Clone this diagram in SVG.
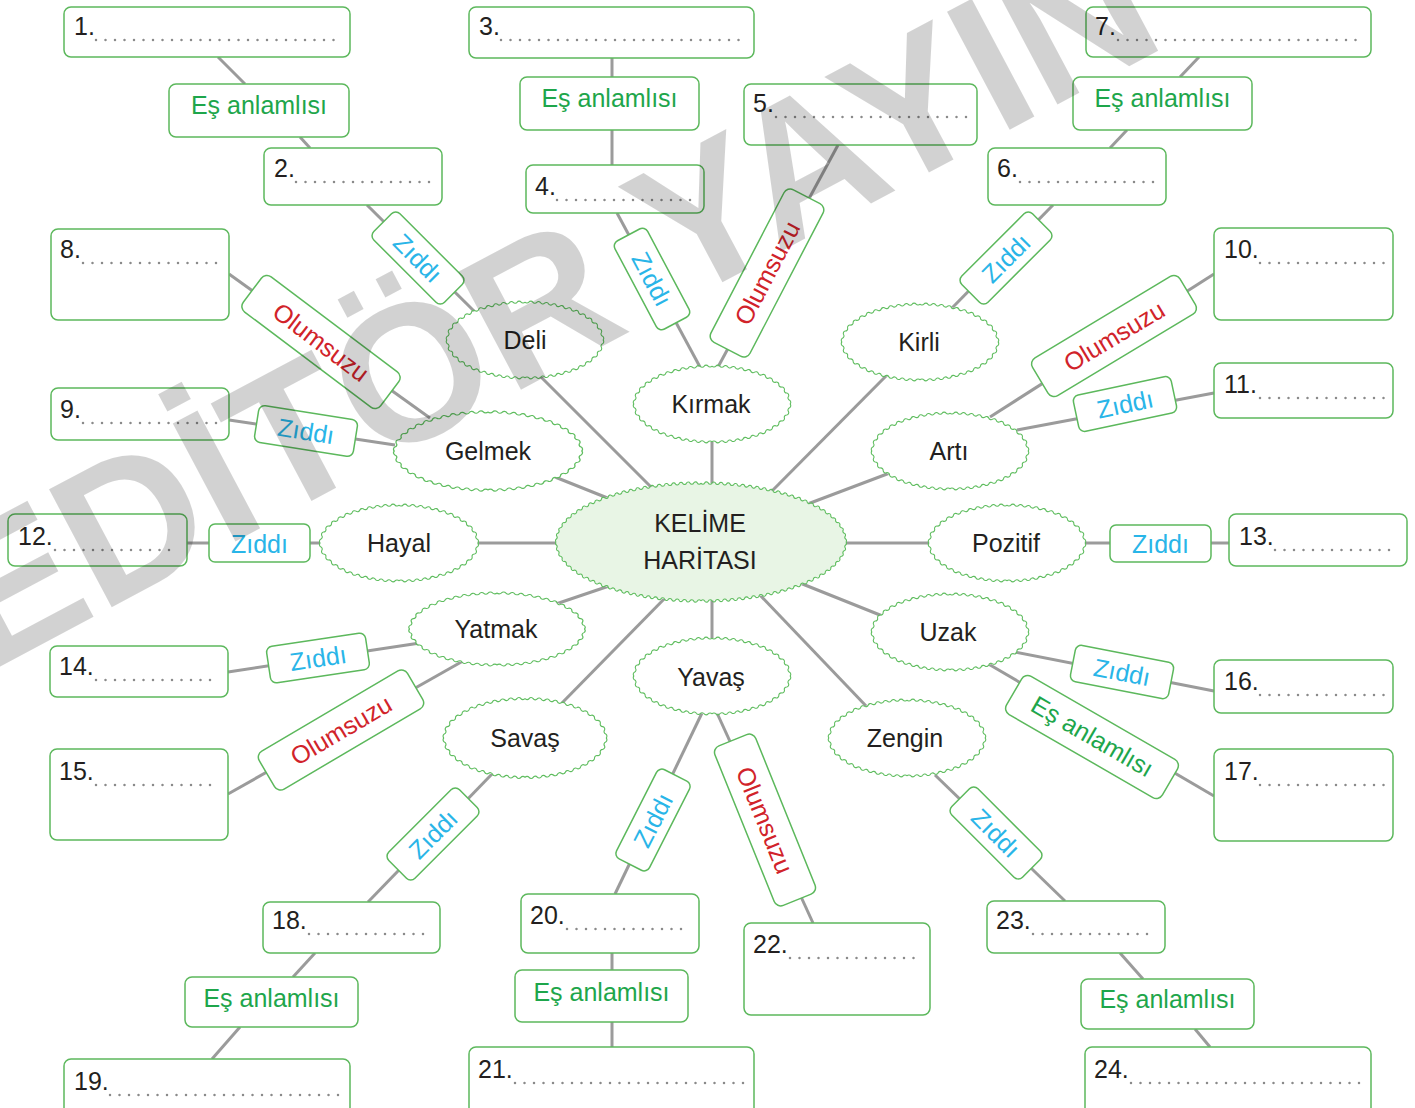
<svg xmlns="http://www.w3.org/2000/svg" xmlns:xlink="http://www.w3.org/1999/xlink" width="1415" height="1108" viewBox="0 0 1415 1108">
<style>
.ln line{stroke:#9b9b9b;stroke-width:3;fill:none}
.bx{fill:#fff;stroke:#5cb85c;stroke-width:1.5}
.wv{fill:none;stroke:#5fbd5f;stroke-width:1.1}
.dt{stroke:#8a8a8a;stroke-width:2.5;stroke-linecap:round;stroke-dasharray:0 9.5;fill:none}
text{font-family:"Liberation Sans",Arial,Helvetica,sans-serif;font-size:25px}
.num{fill:#231f20}
.wd{fill:#231f20;text-anchor:middle}
.zt{fill:#29b5e8;text-anchor:middle}
.ot{fill:#d1232a;text-anchor:middle}
.et{fill:#1ea64b;text-anchor:middle}
.wm{font-weight:bold;font-size:194px;fill:#000;fill-opacity:0.175}
</style>
<defs>
<path id="qs" class="wv" d="M78 0 A2.4 2.4 0 0 0 77.61 -3.81 A2.4 2.4 0 0 1 76.46 -7.51 A2.4 2.4 0 0 0 74.71 -10.93 A2.4 2.4 0 0 1 72.43 -14.11 A2.4 2.4 0 0 0 69.82 -16.94 A2.4 2.4 0 0 1 66.85 -19.58 A2.4 2.4 0 0 0 63.8 -21.86 A2.4 2.4 0 0 1 60.42 -24.03 A2.4 2.4 0 0 0 57.07 -25.9 A2.4 2.4 0 0 1 53.56 -27.62 A2.4 2.4 0 0 0 49.87 -29.22 A2.4 2.4 0 0 1 46.3 -30.58 A2.4 2.4 0 0 0 42.58 -31.84 A2.4 2.4 0 0 1 38.74 -32.98 A2.4 2.4 0 0 0 35.02 -33.95 A2.4 2.4 0 0 1 31.2 -34.83 A2.4 2.4 0 0 0 27.3 -35.6 A2.4 2.4 0 0 1 23.47 -36.24 A2.4 2.4 0 0 0 19.6 -36.78 A2.4 2.4 0 0 1 15.68 -37.22 A2.4 2.4 0 0 0 11.76 -37.57 A2.4 2.4 0 0 1 7.86 -37.81 A2.4 2.4 0 0 0 3.93 -37.95 A2.4 2.4 0 0 1 0 -38"/>
<g id="sw">
<ellipse rx="78" ry="38" fill="#fff"/>
<use href="#qs"/><use href="#qs" transform="scale(-1,1)"/><use href="#qs" transform="scale(1,-1)"/><use href="#qs" transform="scale(-1,-1)"/>
</g>
<path id="qc" class="wv" d="M145 0 A2 2 0 0 0 144.64 -2.96 A2 2 0 0 1 144.27 -5.92 A2 2 0 0 0 143.21 -8.79 A2 2 0 0 1 142.14 -11.66 A2 2 0 0 0 140.51 -14.31 A2 2 0 0 1 138.88 -16.96 A2 2 0 0 0 136.76 -19.43 A2 2 0 0 1 134.64 -21.9 A2 2 0 0 0 132.22 -24.1 A2 2 0 0 1 129.8 -26.3 A2 2 0 0 0 127.04 -28.35 A2 2 0 0 1 124.28 -30.4 A2 2 0 0 0 121.44 -32.17 A2 2 0 0 1 118.6 -33.94 A2 2 0 0 0 115.46 -35.63 A2 2 0 0 1 112.32 -37.31 A2 2 0 0 0 109.21 -38.77 A2 2 0 0 1 106.1 -40.22 A2 2 0 0 0 102.84 -41.56 A2 2 0 0 1 99.57 -42.89 A2 2 0 0 0 96.14 -44.13 A2 2 0 0 1 92.7 -45.37 A2 2 0 0 0 89.39 -46.43 A2 2 0 0 1 86.07 -47.48 A2 2 0 0 0 82.62 -48.46 A2 2 0 0 1 79.16 -49.43 A2 2 0 0 0 75.59 -50.32 A2 2 0 0 1 72.02 -51.21 A2 2 0 0 0 68.57 -51.97 A2 2 0 0 1 65.11 -52.72 A2 2 0 0 0 61.56 -53.4 A2 2 0 0 1 58.01 -54.08 A2 2 0 0 0 54.39 -54.68 A2 2 0 0 1 50.76 -55.27 A2 2 0 0 0 47.2 -55.77 A2 2 0 0 1 43.63 -56.27 A2 2 0 0 0 40.03 -56.69 A2 2 0 0 1 36.43 -57.11 A2 2 0 0 0 32.8 -57.46 A2 2 0 0 1 29.16 -57.8 A2 2 0 0 0 25.51 -58.07 A2 2 0 0 1 21.86 -58.33 A2 2 0 0 0 18.23 -58.52 A2 2 0 0 1 14.6 -58.7 A2 2 0 0 0 10.96 -58.82 A2 2 0 0 1 7.31 -58.93 A2 2 0 0 0 3.66 -58.97 A2 2 0 0 1 0 -59"/>
<rect id="zr" class="bx" x="-50" y="-18.5" width="100" height="37" rx="6"/>
<rect id="or" class="bx" x="-86" y="-22" width="172" height="44" rx="7"/>
</defs>
<rect width="1415" height="1108" fill="#fff"/>

<g id="connectors" class="ln">
<line x1="533" y1="369" x2="655" y2="491"/>
<line x1="712" y1="438" x2="712" y2="488"/>
<line x1="890" y1="372" x2="768" y2="495"/>
<line x1="545" y1="473" x2="615" y2="501"/>
<line x1="895" y1="471" x2="805" y2="505"/>
<line x1="475" y1="543" x2="560" y2="543"/>
<line x1="843" y1="543" x2="933" y2="543"/>
<line x1="550" y1="606" x2="612" y2="585"/>
<line x1="800" y1="583" x2="885" y2="617"/>
<line x1="712" y1="596" x2="712" y2="642"/>
<line x1="560" y1="705" x2="668" y2="595"/>
<line x1="758" y1="593" x2="868" y2="708"/>
<line x1="475" y1="312" x2="367" y2="205"/>
<line x1="310" y1="148" x2="300" y2="137"/>
<line x1="245" y1="84" x2="218" y2="57"/>
<line x1="700" y1="367" x2="617" y2="213"/>
<line x1="612" y1="165" x2="612" y2="130"/>
<line x1="612" y1="77" x2="612" y2="58"/>
<line x1="718" y1="367" x2="838" y2="145"/>
<line x1="952" y1="308" x2="1053" y2="205"/>
<line x1="1110" y1="148" x2="1127" y2="130"/>
<line x1="1180" y1="77" x2="1199" y2="57"/>
<line x1="430" y1="418" x2="229" y2="274"/>
<line x1="395" y1="445" x2="229" y2="420"/>
<line x1="990" y1="417" x2="1214" y2="274"/>
<line x1="1017" y1="430" x2="1214" y2="393"/>
<line x1="320" y1="543" x2="187" y2="543"/>
<line x1="1084" y1="543" x2="1229" y2="543"/>
<line x1="420" y1="643" x2="228" y2="672"/>
<line x1="463" y1="661" x2="228" y2="794"/>
<line x1="1015" y1="652" x2="1214" y2="691"/>
<line x1="985" y1="662" x2="1214" y2="796"/>
<line x1="492" y1="774" x2="368" y2="902"/>
<line x1="315" y1="953" x2="293" y2="977"/>
<line x1="240" y1="1027" x2="212" y2="1059"/>
<line x1="702" y1="713" x2="615" y2="894"/>
<line x1="612" y1="953" x2="612" y2="970"/>
<line x1="612" y1="1022" x2="612" y2="1047"/>
<line x1="717" y1="713" x2="813" y2="923"/>
<line x1="935" y1="775" x2="1065" y2="901"/>
<line x1="1120" y1="953" x2="1143" y2="979"/>
<line x1="1195" y1="1029" x2="1210" y2="1047"/>
</g>

<g id="center">
<ellipse cx="701" cy="542" rx="145" ry="59" fill="#e8f5e5"/>
<g transform="translate(701,542)"><use href="#qc"/><use href="#qc" transform="scale(-1,1)"/><use href="#qc" transform="scale(1,-1)"/><use href="#qc" transform="scale(-1,-1)"/></g>
<text class="wd" x="700" y="532" font-size="24">KELİME</text>
<text class="wd" x="700" y="569" font-size="24">HARİTASI</text>
</g>

<g id="n-deli"><use href="#sw" transform="translate(525,340)"/><text class="wd" x="525" y="349">Deli</text></g>
<g id="n-kirmak"><use href="#sw" transform="translate(712,404)"/><text class="wd" x="711" y="413">Kırmak</text></g>
<g id="n-kirli"><use href="#sw" transform="translate(920,342)"/><text class="wd" x="919" y="351">Kirli</text></g>
<g id="n-gelmek"><use href="#sw" transform="translate(488,451) scale(1.2,1.03)"/><text class="wd" x="488" y="460">Gelmek</text></g>
<g id="n-arti"><use href="#sw" transform="translate(950,451)"/><text class="wd" x="949" y="460">Artı</text></g>
<g id="n-hayal"><use href="#sw" transform="translate(399,543) scale(1.01,1)"/><text class="wd" x="399" y="552">Hayal</text></g>
<g id="n-pozitif"><use href="#sw" transform="translate(1007,543)"/><text class="wd" x="1006" y="552">Pozitif</text></g>
<g id="n-yatmak"><use href="#sw" transform="translate(497,629) scale(1.12,0.95)"/><text class="wd" x="496" y="638">Yatmak</text></g>
<g id="n-uzak"><use href="#sw" transform="translate(950,632)"/><text class="wd" x="948" y="641">Uzak</text></g>
<g id="n-yavas"><use href="#sw" transform="translate(712,676)"/><text class="wd" x="711" y="686">Yavaş</text></g>
<g id="n-savas"><use href="#sw" transform="translate(525,738) scale(1.04,1.04)"/><text class="wd" x="525" y="747">Savaş</text></g>
<g id="n-zengin"><use href="#sw" transform="translate(907,738)"/><text class="wd" x="905" y="747">Zengin</text></g>

<g id="l-deli-z" transform="translate(418,258) rotate(45)"><use href="#zr"/><text class="zt" y="9">Zıddı</text></g>
<g id="l-kirmak-z" transform="translate(652,279) rotate(62)"><use href="#zr"/><text class="zt" y="9">Zıddı</text></g>
<g id="l-kirli-z" transform="translate(1006,258) rotate(-45)"><use href="#zr"/><text class="zt" y="9">Zıddı</text></g>
<g id="l-gelmek-z" transform="translate(306,431) rotate(9)"><use href="#zr"/><text class="zt" y="9">Zıddı</text></g>
<g id="l-arti-z" transform="translate(1125,404) rotate(-12)"><use href="#zr"/><text class="zt" y="9">Zıddı</text></g>
<g id="l-hayal-z"><rect class="bx" x="209" y="524" width="101" height="38" rx="6"/><text class="zt" x="259.5" y="553">Zıddı</text></g>
<g id="l-pozitif-z"><rect class="bx" x="1110" y="525" width="101" height="37" rx="6"/><text class="zt" x="1160.5" y="553">Zıddı</text></g>
<g id="l-yatmak-z" transform="translate(318,658) rotate(-8.5)"><use href="#zr"/><text class="zt" y="9">Zıddı</text></g>
<g id="l-uzak-z" transform="translate(1122,672) rotate(11)"><use href="#zr"/><text class="zt" y="9">Zıddı</text></g>
<g id="l-savas-z" transform="translate(433,834) rotate(-45)"><use href="#zr"/><text class="zt" y="9">Zıddı</text></g>
<g id="l-yavas-z" transform="translate(653,820) rotate(-63)"><use href="#zr"/><text class="zt" y="9">Zıddı</text></g>
<g id="l-zengin-z" transform="translate(996,833) rotate(45)"><use href="#zr"/><text class="zt" y="9">Zıddı</text></g>

<g id="l-deli-o" transform="translate(321,342) rotate(37)"><use href="#or"/><text class="ot" y="9">Olumsuzu</text></g>
<g id="l-kirmak-o" transform="translate(767,273) rotate(-62.5)"><use href="#or"/><text class="ot" y="9">Olumsuzu</text></g>
<g id="l-arti-o" transform="translate(1114,336) rotate(-31)"><use href="#or"/><text class="ot" y="9">Olumsuzu</text></g>
<g id="l-yatmak-o" transform="translate(341,730) rotate(-30.5)"><use href="#or"/><text class="ot" y="9">Olumsuzu</text></g>
<g id="l-yavas-o" transform="translate(765,820) rotate(68)"><use href="#or"/><text class="ot" y="9">Olumsuzu</text></g>

<g id="l-e1"><rect class="bx" x="169" y="84" width="180" height="53" rx="7"/><text class="et" x="259" y="114">Eş anlamlısı</text></g>
<g id="l-e2"><rect class="bx" x="520" y="77" width="179" height="53" rx="7"/><text class="et" x="609.5" y="107">Eş anlamlısı</text></g>
<g id="l-e3"><rect class="bx" x="1073" y="77" width="179" height="53" rx="7"/><text class="et" x="1162.5" y="107">Eş anlamlısı</text></g>
<g id="l-e4"><rect class="bx" x="185" y="977" width="173" height="50" rx="7"/><text class="et" x="271.5" y="1007">Eş anlamlısı</text></g>
<g id="l-e5"><rect class="bx" x="515" y="970" width="173" height="52" rx="7"/><text class="et" x="601.5" y="1001">Eş anlamlısı</text></g>
<g id="l-e6"><rect class="bx" x="1081" y="979" width="173" height="50" rx="7"/><text class="et" x="1167.5" y="1008">Eş anlamlısı</text></g>
<g id="l-uzak-e" transform="translate(1092,737) rotate(30)"><rect class="bx" x="-90" y="-22" width="180" height="44" rx="7"/><text class="et" y="8">Eş anlamlısı</text></g>

<g id="b1"><rect class="bx" x="64" y="7" width="286" height="50" rx="7"/><text class="num" x="74" y="35">1.</text><line class="dt" x1="96" y1="40" x2="342" y2="40"/></g>
<g id="b2"><rect class="bx" x="264" y="148" width="178" height="57" rx="7"/><text class="num" x="274" y="177">2.</text><line class="dt" x1="296" y1="182" x2="434" y2="182"/></g>
<g id="b3"><rect class="bx" x="469" y="7" width="285" height="51" rx="7"/><text class="num" x="479" y="35">3.</text><line class="dt" x1="501" y1="40" x2="746" y2="40"/></g>
<g id="b4"><rect class="bx" x="526" y="165" width="178" height="48" rx="7"/><text class="num" x="535" y="195">4.</text><line class="dt" x1="557" y1="200" x2="696" y2="200"/></g>
<g id="b5"><rect class="bx" x="744" y="84" width="233" height="61" rx="7"/><text class="num" x="753" y="112">5.</text><line class="dt" x1="776" y1="117" x2="968" y2="117"/></g>
<g id="b6"><rect class="bx" x="988" y="148" width="178" height="57" rx="7"/><text class="num" x="997" y="177">6.</text><line class="dt" x1="1020" y1="182" x2="1158" y2="182"/></g>
<g id="b7"><rect class="bx" x="1086" y="7" width="285" height="50" rx="7"/><text class="num" x="1095" y="35">7.</text><line class="dt" x1="1118" y1="40" x2="1363" y2="40"/></g>
<g id="b8"><rect class="bx" x="51" y="229" width="178" height="91" rx="7"/><text class="num" x="60" y="258">8.</text><line class="dt" x1="83" y1="263" x2="220" y2="263"/></g>
<g id="b9"><rect class="bx" x="51" y="388" width="178" height="52" rx="7"/><text class="num" x="60" y="418">9.</text><line class="dt" x1="83" y1="423" x2="220" y2="423"/></g>
<g id="b10"><rect class="bx" x="1214" y="228" width="179" height="92" rx="7"/><text class="num" x="1224" y="258">10.</text><line class="dt" x1="1260" y1="263" x2="1384" y2="263"/></g>
<g id="b11"><rect class="bx" x="1214" y="363" width="179" height="55" rx="7"/><text class="num" x="1224" y="393">11.</text><line class="dt" x1="1260" y1="398" x2="1384" y2="398"/></g>
<g id="b12"><rect class="bx" x="8" y="514" width="179" height="52" rx="7"/><text class="num" x="18" y="545">12.</text><line class="dt" x1="55" y1="550" x2="178" y2="550"/></g>
<g id="b13"><rect class="bx" x="1229" y="514" width="178" height="52" rx="7"/><text class="num" x="1239" y="545">13.</text><line class="dt" x1="1275" y1="550" x2="1398" y2="550"/></g>
<g id="b14"><rect class="bx" x="50" y="646" width="178" height="51" rx="7"/><text class="num" x="59" y="675">14.</text><line class="dt" x1="96" y1="680" x2="219" y2="680"/></g>
<g id="b15"><rect class="bx" x="50" y="749" width="178" height="91" rx="7"/><text class="num" x="59" y="780">15.</text><line class="dt" x1="96" y1="785" x2="219" y2="785"/></g>
<g id="b16"><rect class="bx" x="1214" y="660" width="179" height="53" rx="7"/><text class="num" x="1224" y="690">16.</text><line class="dt" x1="1260" y1="695" x2="1384" y2="695"/></g>
<g id="b17"><rect class="bx" x="1214" y="749" width="179" height="92" rx="7"/><text class="num" x="1224" y="780">17.</text><line class="dt" x1="1260" y1="785" x2="1384" y2="785"/></g>
<g id="b18"><rect class="bx" x="263" y="902" width="177" height="51" rx="7"/><text class="num" x="272" y="929">18.</text><line class="dt" x1="309" y1="934" x2="431" y2="934"/></g>
<g id="b19"><rect class="bx" x="64" y="1059" width="286" height="60" rx="7"/><text class="num" x="74" y="1090">19.</text><line class="dt" x1="110" y1="1095" x2="342" y2="1095"/></g>
<g id="b20"><rect class="bx" x="521" y="894" width="178" height="59" rx="7"/><text class="num" x="530" y="924">20.</text><line class="dt" x1="567" y1="929" x2="690" y2="929"/></g>
<g id="b21"><rect class="bx" x="469" y="1047" width="285" height="70" rx="7"/><text class="num" x="478" y="1078">21.</text><line class="dt" x1="515" y1="1083" x2="746" y2="1083"/></g>
<g id="b22"><rect class="bx" x="744" y="923" width="186" height="92" rx="7"/><text class="num" x="753" y="953">22.</text><line class="dt" x1="790" y1="958" x2="921" y2="958"/></g>
<g id="b23"><rect class="bx" x="987" y="901" width="178" height="52" rx="7"/><text class="num" x="996" y="929">23.</text><line class="dt" x1="1033" y1="934" x2="1156" y2="934"/></g>
<g id="b24"><rect class="bx" x="1085" y="1047" width="286" height="70" rx="7"/><text class="num" x="1094" y="1078">24.</text><line class="dt" x1="1131" y1="1083" x2="1363" y2="1083"/></g>

<text class="wm" transform="translate(-14,674) rotate(-28)">EDİTÖR YAYIN</text>
</svg>
